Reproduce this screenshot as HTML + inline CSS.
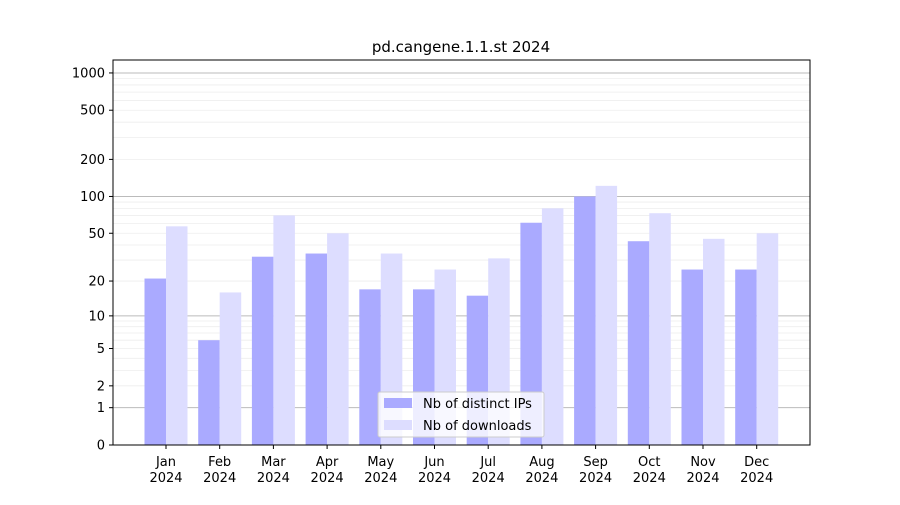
<!DOCTYPE html>
<html><head><meta charset="utf-8"><style>
body{margin:0;background:#fff;font-family:"Liberation Sans","DejaVu Sans",sans-serif;}
svg text{font-family:"DejaVu Sans","Liberation Sans",sans-serif;}
</style></head><body>
<svg id="chart" width="900" height="500">
<rect width="900" height="500" fill="#fff"/>
<text x="461" y="52" text-anchor="middle" font-size="15">pd.cangene.1.1.st 2024</text>
<g id="grid"></g><g id="bars"></g><g id="axes"></g>
<rect x="113" y="60" width="697" height="385" fill="none" stroke="#000" stroke-width="1"/>
<g>
<rect x="378" y="392" width="166" height="45" fill="#fff" fill-opacity="0.8" stroke="#ccc" rx="2"/>
<rect x="384" y="398" width="28" height="10" fill="#aaaaff"/>
<text x="423" y="408" font-size="13">Nb of distinct IPs</text>
<rect x="384" y="420" width="28" height="10" fill="#ddddff"/>
<text x="423" y="430" font-size="13">Nb of downloads</text>
</g>
</svg>
<script>
const months=["Jan","Feb","Mar","Apr","May","Jun","Jul","Aug","Sep","Oct","Nov","Dec"];
const ips=[21,6,32,34,17,17,15,61,100,43,25,25];
const downloads=[57,16,70,50,34,25,31,80,122,73,45,50];
const yTicks=[0,1,2,5,10,20,50,100,200,500,1000];
const NS="http://www.w3.org/2000/svg";
function y(v){return 445-124*Math.log10(v+1);}
function xc(i){return 166+i*53.7;}
function mk(tag,attrs,parent,text){const e=document.createElementNS(NS,tag);for(const k in attrs)e.setAttribute(k,attrs[k]);if(text!==undefined)e.textContent=text;parent.appendChild(e);return e;}
const grid=document.getElementById('grid'),bars=document.getElementById('bars'),axes=document.getElementById('axes');
// minor grid
for(let d=1;d<=1000;d*=10){for(let m=1;m<10;m++){const v=d*m;if(v>1000)break;const major=(m===1);
const l=mk('line',{x1:113,x2:810,y1:y(v),y2:y(v),stroke:major?'#bbb':'#eee','stroke-width':major?1:0.8},grid);

}}
yTicks.forEach(t=>{const yy=y(t);
mk('line',{x1:109,x2:113,y1:yy,y2:yy,stroke:'#000'},axes);
const tx=mk('text',{x:105,y:yy+4.5,'text-anchor':'end','font-size':13},axes,String(t));

});
const bw=21.5;
months.forEach((m,i)=>{const c=xc(i);
const b1=mk('rect',{x:c-bw,y:y(ips[i]),width:bw,height:445-y(ips[i]),fill:'#aaaaff'},bars);


const b2=mk('rect',{x:c,y:y(downloads[i]),width:bw,height:445-y(downloads[i]),fill:'#ddddff'},bars);


mk('line',{x1:c,x2:c,y1:445,y2:449,stroke:'#000'},axes);
const t1=mk('text',{x:c,y:466,'text-anchor':'middle','font-size':13},axes,m);


const t2=mk('text',{x:c,y:482,'text-anchor':'middle','font-size':13},axes,'2024');

});
</script>
</body></html>
